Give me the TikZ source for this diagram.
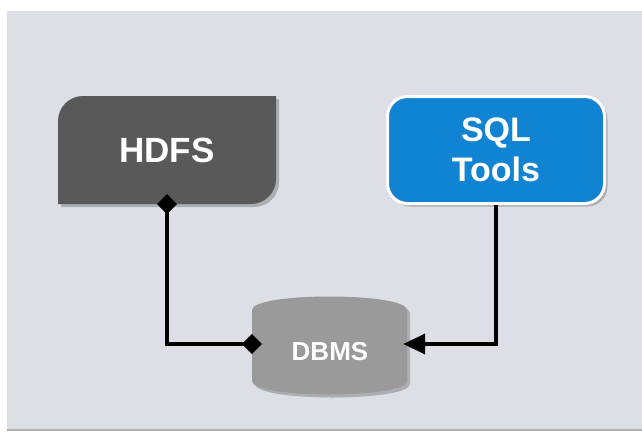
\documentclass[tikz,border=0pt]{standalone}
\usepackage{fontspec}
\setmainfont{Liberation Sans}
\usetikzlibrary{arrows.meta,shadows,calc}
\definecolor{panel}{HTML}{DCDFE6}
\definecolor{hdfsgray}{HTML}{595959}
\definecolor{sqlblue}{HTML}{1083D3}
\definecolor{dbmsgray}{HTML}{9A9A9A}
\begin{document}
\begin{tikzpicture}[x=1pt,y=-1pt,
  boxshadow/.style={drop shadow={shadow xshift=3pt,shadow yshift=-3pt,opacity=0.22,fill=black}},
  lbl/.style={text=white,font=\bfseries,align=center,inner sep=0pt},
  conn/.style={line width=3.4pt,draw=black}]
\useasboundingbox (0,0) rectangle (642,431);
\fill[white] (0,0) rectangle (642,431);
\fill[panel] (7,11) rectangle (642,430);
\draw[black!30,line width=1.5pt] (7,430) -- (642,430);
% HDFS shape
\fill[hdfsgray,boxshadow] (58,204) -- (58,121) .. controls (58,107.2) and (69.2,96) .. (83,96)
  -- (276,96) -- (276,179) .. controls (276,192.8) and (264.8,204) .. (251,204) -- cycle;
\node[lbl,minimum width=218pt,minimum height=108pt,font=\fontsize{35}{40}\selectfont\bfseries] (hdfs) at (167,150) {HDFS};
% SQL Tools
\node[lbl,draw=white,line width=3pt,fill=sqlblue,rounded corners=20pt,boxshadow,
  minimum width=217pt,minimum height=107pt,font=\fontsize{34}{40}\selectfont\bfseries] (sql) at (496,150)
  {SQL\\Tools};
% DBMS cylinder
\fill[dbmsgray,boxshadow] (252,310) .. controls (252,292) and (407,292) .. (407,310)
  -- (407,381) .. controls (407,399) and (252,399) .. (252,381) -- cycle;
\node[minimum width=155pt,minimum height=70pt,inner sep=0pt] (dbms) at (329.5,344) {};
\node[lbl,font=\fontsize{26}{30}\selectfont\bfseries] (dbmstext) at (330,352) {DBMS};
% connectors
\draw[conn,{Diamond[length=20pt,width=20pt]}-{Diamond[length=20pt,width=20pt]},shorten <=-10pt,shorten >=-10pt]
  (hdfs.south) |- (dbms.west);
\draw[conn,-{Triangle[length=22pt,width=20pt]},shorten >=-4pt] (sql.south) |- (dbms.east);
\end{tikzpicture}
\end{document}
